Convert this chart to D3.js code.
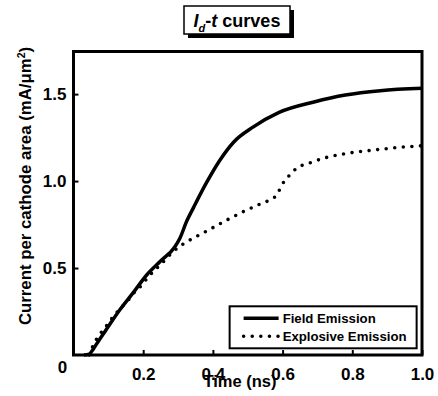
<!DOCTYPE html>
<html>
<head>
<meta charset="utf-8">
<script src="https://cdn.jsdelivr.net/npm/d3@7"></script>
<style>
  body { margin: 0; background: #fff; }
  svg { display: block; font-family: "Liberation Sans", Arial, sans-serif; font-weight: bold; }
</style>
</head>
<body>
<svg id="chart" width="438" height="396"></svg>
<script>
// dades llegides de la figura
const fieldT = [0.03, 0.045, 0.057, 0.07, 0.09, 0.133, 0.172, 0.21, 0.25, 0.29, 0.305, 0.325, 0.345, 0.38, 0.42, 0.46, 0.515, 0.59, 0.69, 0.78, 0.88, 1.0];
const fieldV = [0, 0.005, 0.035, 0.075, 0.134, 0.26, 0.36, 0.46, 0.54, 0.62, 0.67, 0.77, 0.85, 0.985, 1.12, 1.225, 1.31, 1.395, 1.455, 1.495, 1.52, 1.533];

const explT = [0.045, 0.057, 0.071, 0.09, 0.11, 0.13, 0.153, 0.172, 0.196, 0.215, 0.25, 0.286, 0.31, 0.334, 0.387, 0.44, 0.487, 0.54, 0.565, 0.585, 0.597, 0.616, 0.64, 0.679, 0.726, 0.784, 0.86, 0.937, 1.0];
const explV = [0.0, 0.057, 0.107, 0.155, 0.21, 0.258, 0.306, 0.354, 0.402, 0.45, 0.52, 0.594, 0.632, 0.661, 0.718, 0.776, 0.824, 0.872, 0.893, 0.925, 0.975, 1.025, 1.073, 1.105, 1.136, 1.159, 1.178, 1.194, 1.203];

const xTicks = [0.2, 0.4, 0.6, 0.8, 1.0];
const yTicks = [0.5, 1.0, 1.5];
const seriesNames = ["Field Emission", "Explosive Emission"];

const svg = d3.select("#chart");
const margin = { top: 51.5, left: 73.5, right: 16, bottom: 41 };
const width = 438 - margin.left - margin.right,
      height = 396 - margin.top - margin.bottom;

const x = d3.scaleLinear().domain([0, 1]).range([0, width]);
const y = d3.scaleLinear().domain([0, 1.745]).range([height, 0]);

const g = svg.append("g").attr("transform", `translate(${margin.left},${margin.top})`);

// eixos (ticks cap endins)
const xAxis = g.append("g")
  .attr("transform", `translate(0,${height})`)
  .call(d3.axisBottom(x).tickValues(xTicks).tickSizeInner(-5).tickSizeOuter(0).tickPadding(13).tickFormat(d3.format(".1f")));
const yAxis = g.append("g")
  .call(d3.axisLeft(y).tickValues(yTicks).tickSizeInner(-5).tickSizeOuter(0).tickPadding(7).tickFormat(d3.format(".1f")));

[xAxis, yAxis].forEach(a => {
  a.select(".domain").remove();
  a.selectAll("line").attr("stroke", "#000").attr("stroke-width", 2);
  a.selectAll("text").attr("font-size", 17).attr("font-weight", "bold").attr("fill", "#000")
    .attr("font-family", "Liberation Sans, Arial, sans-serif");
});

// el zero a la cantonada
g.append("text")
  .attr("x", -11).attr("y", height + 18)
  .attr("text-anchor", "middle")
  .attr("font-size", 17)
  .text("0");

// corbes
const line = d3.line().x(d => x(d[0])).y(d => y(d[1])).curve(d3.curveMonotoneX);

g.append("path")
  .datum(fieldT.map((t, i) => [t, fieldV[i]]))
  .attr("d", line)
  .attr("fill", "none")
  .attr("stroke", "#000")
  .attr("stroke-width", 3.5);

g.append("path")
  .datum(explT.map((t, i) => [t, explV[i]]))
  .attr("d", line)
  .attr("fill", "none")
  .attr("stroke", "#000")
  .attr("stroke-width", 3.6)
  .attr("stroke-linecap", "round")
  .attr("stroke-dasharray", "0 8.6");

// marc
g.append("rect")
  .attr("width", width).attr("height", height)
  .attr("fill", "none").attr("stroke", "#000").attr("stroke-width", 3);

// llegenda
const legend = g.append("g").attr("transform", `translate(${x(0.448)},${y(0.28)})`);
legend.append("rect")
  .attr("width", 187).attr("height", 42)
  .attr("fill", "#fff").attr("stroke", "#000").attr("stroke-width", 2);

seriesNames.forEach((name, i) => {
  const row = legend.append("g").attr("transform", `translate(0,${12 + i * 18})`);
  row.append("line")
    .attr("x1", 14).attr("x2", 49)
    .attr("stroke", "#000")
    .attr("stroke-width", i === 0 ? 3.5 : 3.6)
    .attr("stroke-linecap", i === 0 ? "butt" : "round")
    .attr("stroke-dasharray", i === 0 ? null : "0 8.6");
  row.append("text")
    .attr("x", 53).attr("y", 4.8)
    .attr("font-size", 13.2)
    .text(name);
});

// etiquetes dels eixos
svg.append("text")
  .attr("x", 240).attr("y", 387)
  .attr("text-anchor", "middle")
  .attr("font-size", 16.5)
  .text("Time (ns)");

const yl = svg.append("text")
  .attr("transform", "translate(31,186) rotate(-90)")
  .attr("text-anchor", "middle")
  .attr("font-size", 16.8);
yl.append("tspan").text("Current per cathode area (mA/\u03bcm");
yl.append("tspan").attr("dy", -6).attr("font-size", 10.5).text("2");
yl.append("tspan").attr("dy", 6).text(")");

// títol amb ombra
const title = svg.append("g").attr("transform", "translate(184,6)");
title.append("rect").attr("x", 4).attr("y", 4).attr("width", 106).attr("height", 28).attr("fill", "#000");
title.append("rect").attr("width", 106).attr("height", 28).attr("fill", "#fff").attr("stroke", "#000").attr("stroke-width", 1.5);
const tt = title.append("text").attr("x", 53).attr("y", 20.5).attr("text-anchor", "middle").attr("font-size", 18);
tt.append("tspan").attr("font-style", "italic").text("I");
tt.append("tspan").attr("font-style", "italic").attr("font-size", 11).attr("dy", 5).text("d");
tt.append("tspan").attr("dy", -5).text("-");
tt.append("tspan").attr("font-style", "italic").text("t");
tt.append("tspan").text(" curves");
</script>
</body>
</html>
